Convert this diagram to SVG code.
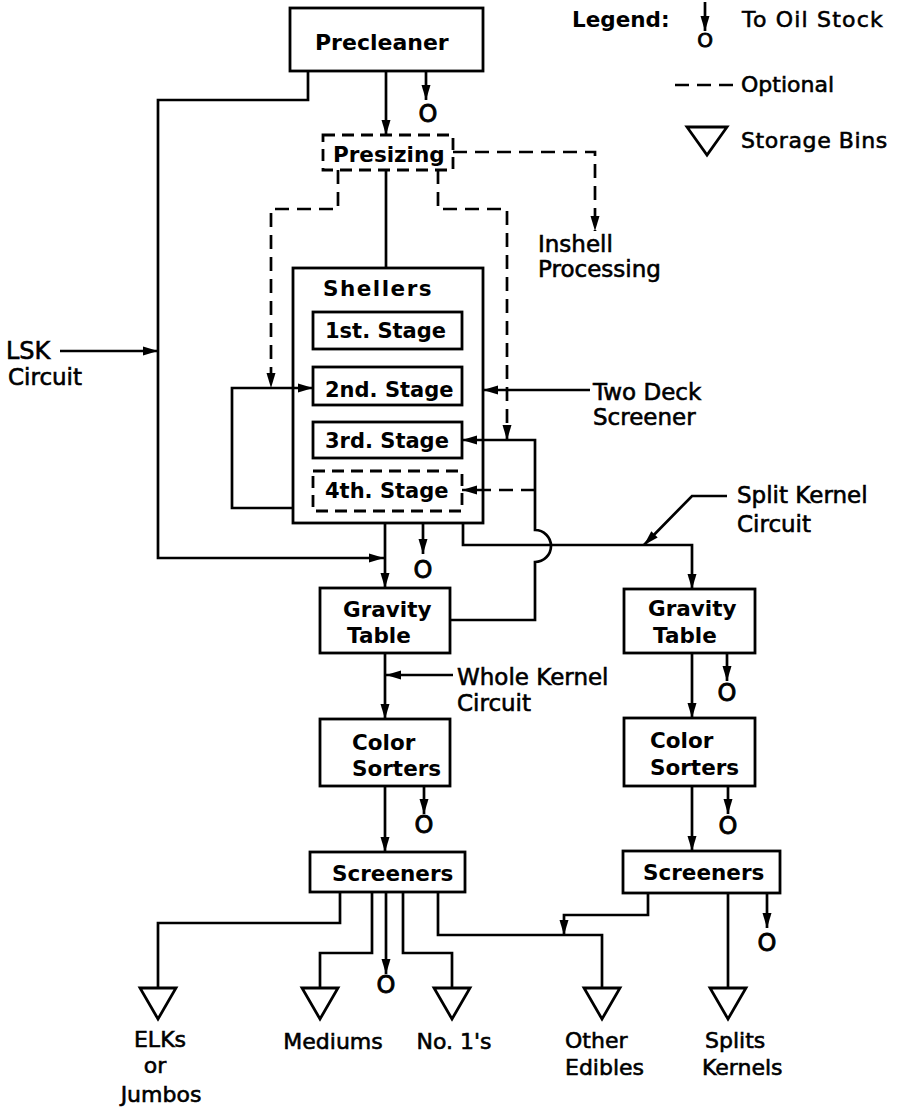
<svg xmlns="http://www.w3.org/2000/svg" width="904" height="1111" viewBox="0 0 904 1111">
<defs>
<style>
.box{fill:none;stroke:#000;stroke-width:2.8}
.ln{fill:none;stroke:#000;stroke-width:2.7}
.ar{marker-end:url(#ah)}
.dash{stroke-dasharray:14 8}
.bin{fill:none;stroke:#000;stroke-width:2.8;stroke-linejoin:miter}
.tb{font-family:"DejaVu Sans","Liberation Sans",sans-serif;font-weight:bold;font-size:21.5px;fill:#000}
.tr{font-family:"DejaVu Sans","Liberation Sans",sans-serif;font-size:23px;fill:#000;stroke:#000;stroke-width:0.6}
.tl{font-family:"DejaVu Sans","Liberation Sans",sans-serif;font-size:22px;fill:#000;stroke:#000;stroke-width:0.6}
.oil{font-family:"DejaVu Sans","Liberation Sans",sans-serif;font-size:24px;fill:#000;stroke:#000;stroke-width:0.9;text-anchor:middle}
</style>
<marker id="ah" markerWidth="15" markerHeight="10" refX="15" refY="5" orient="auto" markerUnits="userSpaceOnUse">
<path d="M0,0.5 L15,5 L0,9.5 z" fill="#000"/>
</marker>
</defs>
<rect x="0" y="0" width="904" height="1111" fill="#fff"/>

<g id="legend">
<text class="tb" x="572" y="27">Legend:</text>
<line class="ln ar" x1="705" y1="2" x2="705" y2="31"/>
<text class="oil" x="705" y="47" style="font-size:20px">O</text>
<text class="tl" x="742" y="27" letter-spacing="1.2">To Oil Stock</text>
<line class="ln dash" x1="675" y1="85" x2="741" y2="85"/>
<text class="tl" x="741" y="92">Optional</text>
<polygon class="bin" points="687,127 727,127 707,155"/>
<text class="tl" x="741" y="148" letter-spacing="0.6">Storage Bins</text>
</g>

<g id="connectors">
<line class="ln ar" x1="386" y1="71" x2="386" y2="135"/>
<line class="ln ar" x1="426" y1="71" x2="426" y2="100"/>
<polyline class="ln ar" points="308,71 308,100 158,100 158,558 384,558"/>
<line class="ln ar" x1="60" y1="351" x2="158" y2="351"/>
<polyline class="ln dash ar" points="453,152 595,152 595,231"/>
<polyline class="ln dash ar" points="338,170 338,209 271,209 271,388"/>
<polyline class="ln dash ar" points="438,170 438,209 507,209 507,440"/>
<line class="ln" x1="386" y1="170" x2="386" y2="268"/>
<polyline class="ln ar" points="293,508 232,508 232,388 313,388"/>
<line class="ln ar" x1="590" y1="390" x2="483" y2="390"/>
<path class="ln ar" d="M450,620 L535,620 L535,562 A16,16 0 0 0 535,530 L535,440 L462,440"/>
<line class="ln dash ar" x1="535" y1="490" x2="462" y2="490"/>
<polyline class="ln ar" points="463,523 463,545 692,545 692,589"/>
<polyline class="ln ar" points="727,496 692,496 644,545"/>
<line class="ln ar" x1="385" y1="523" x2="385" y2="588"/>
<line class="ln ar" x1="423" y1="523" x2="423" y2="554"/>
<line class="ln ar" x1="385" y1="653" x2="385" y2="719"/>
<line class="ln ar" x1="453" y1="675" x2="386" y2="675"/>
<line class="ln ar" x1="385" y1="786" x2="385" y2="852"/>
<line class="ln ar" x1="424" y1="786" x2="424" y2="814"/>
<polyline class="ln" points="340,892 340,923 158,923 158,988"/>
<polyline class="ln" points="372,892 372,953 320,953 320,988"/>
<line class="ln ar" x1="386" y1="892" x2="386" y2="974"/>
<polyline class="ln" points="403,892 403,953 452,953 452,988"/>
<polyline class="ln" points="438,892 438,935 602,935 602,988"/>
<line class="ln ar" x1="692" y1="653" x2="692" y2="718"/>
<line class="ln ar" x1="727" y1="653" x2="727" y2="681"/>
<line class="ln ar" x1="692" y1="786" x2="692" y2="851"/>
<line class="ln ar" x1="728" y1="786" x2="728" y2="814"/>
<polyline class="ln ar" points="648,893 648,915 564,915 564,935"/>
<line class="ln" x1="728" y1="893" x2="728" y2="988"/>
<line class="ln ar" x1="767" y1="893" x2="767" y2="928"/>
</g>

<g id="oil-stock">
<text class="oil" x="428" y="122">O</text>
<text class="oil" x="423" y="578">O</text>
<text class="oil" x="727" y="701">O</text>
<text class="oil" x="424" y="833">O</text>
<text class="oil" x="728" y="834">O</text>
<text class="oil" x="386" y="993">O</text>
<text class="oil" x="767" y="951">O</text>
</g>

<g id="precleaner">
<rect class="box" x="290" y="8" width="193" height="63"/>
<text class="tb" x="315" y="50" style="font-size:22px">Precleaner</text>
</g>

<g id="presizing">
<rect class="box dash" x="323" y="135" width="130" height="35" style="stroke-dasharray:12 7"/>
<text class="tb" x="333" y="162">Presizing</text>
</g>

<g id="inshell">
<text class="tr" x="538" y="252">Inshell</text>
<text class="tr" x="538" y="277">Processing</text>
</g>

<g id="lsk-label">
<text class="tr" x="6" y="359" style="font-size:24px">LSK</text>
<text class="tr" x="8" y="385" style="font-size:23px">Circuit</text>
</g>

<g id="shellers">
<rect class="box" x="293" y="268" width="190" height="255"/>
<text class="tb" x="323" y="296" letter-spacing="1.5">Shellers</text>
<g id="stage1">
<rect class="box" x="313" y="312" width="149" height="37"/>
<text class="tb" x="325" y="338" style="font-size:21px">1st. Stage</text>
</g>
<g id="stage2">
<rect class="box" x="313" y="367" width="149" height="38"/>
<text class="tb" x="325" y="397" style="font-size:21px">2nd. Stage</text>
</g>
<g id="stage3">
<rect class="box" x="313" y="422" width="149" height="36"/>
<text class="tb" x="325" y="448" style="font-size:21px">3rd. Stage</text>
</g>
<g id="stage4">
<rect class="box dash" x="313" y="471" width="149" height="40" style="stroke-dasharray:12 7"/>
<text class="tb" x="325" y="498" style="font-size:21px">4th. Stage</text>
</g>
</g>

<g id="two-deck-label">
<text class="tr" x="593" y="400">Two Deck</text>
<text class="tr" x="593" y="425">Screener</text>
</g>

<g id="split-kernel-label">
<text class="tr" x="737" y="503">Split Kernel</text>
<text class="tr" x="737" y="532">Circuit</text>
</g>

<g id="gravity1">
<rect class="box" x="320" y="588" width="130" height="65"/>
<text class="tb" x="343" y="617">Gravity</text>
<text class="tb" x="347" y="643">Table</text>
</g>

<g id="whole-kernel-label">
<text class="tr" x="457" y="685">Whole Kernel</text>
<text class="tr" x="457" y="711">Circuit</text>
</g>

<g id="colorsorters1">
<rect class="box" x="320" y="719" width="130" height="67"/>
<text class="tb" x="352" y="750">Color</text>
<text class="tb" x="352" y="776">Sorters</text>
</g>

<g id="screeners1">
<rect class="box" x="310" y="852" width="155" height="40"/>
<text class="tb" x="332" y="881">Screeners</text>
</g>

<g id="gravity2">
<rect class="box" x="624" y="589" width="131" height="64"/>
<text class="tb" x="648" y="616">Gravity</text>
<text class="tb" x="653" y="643">Table</text>
</g>

<g id="colorsorters2">
<rect class="box" x="624" y="718" width="131" height="68"/>
<text class="tb" x="650" y="748">Color</text>
<text class="tb" x="650" y="775">Sorters</text>
</g>

<g id="screeners2">
<rect class="box" x="623" y="851" width="157" height="42"/>
<text class="tb" x="643" y="880">Screeners</text>
</g>

<g id="bin-elks">
<polygon class="bin" points="140,988 176,988 158,1019"/>
<text class="tl" x="160" y="1047" text-anchor="middle">ELKs</text>
<text class="tl" x="155" y="1073" text-anchor="middle">or</text>
<text class="tl" x="161" y="1102" text-anchor="middle">Jumbos</text>
</g>
<g id="bin-mediums">
<polygon class="bin" points="302,988 338,988 320,1019"/>
<text class="tl" x="333" y="1049" text-anchor="middle">Mediums</text>
</g>
<g id="bin-no1">
<polygon class="bin" points="434,988 470,988 452,1019"/>
<text class="tl" x="454" y="1049" text-anchor="middle">No. 1's</text>
</g>
<g id="bin-other">
<polygon class="bin" points="584,988 620,988 602,1019"/>
<text class="tl" x="565" y="1048">Other</text>
<text class="tl" x="565" y="1075">Edibles</text>
</g>
<g id="bin-splits">
<polygon class="bin" points="710,988 746,988 728,1019"/>
<text class="tl" x="705" y="1048">Splits</text>
<text class="tl" x="702" y="1075">Kernels</text>
</g>
</svg>
